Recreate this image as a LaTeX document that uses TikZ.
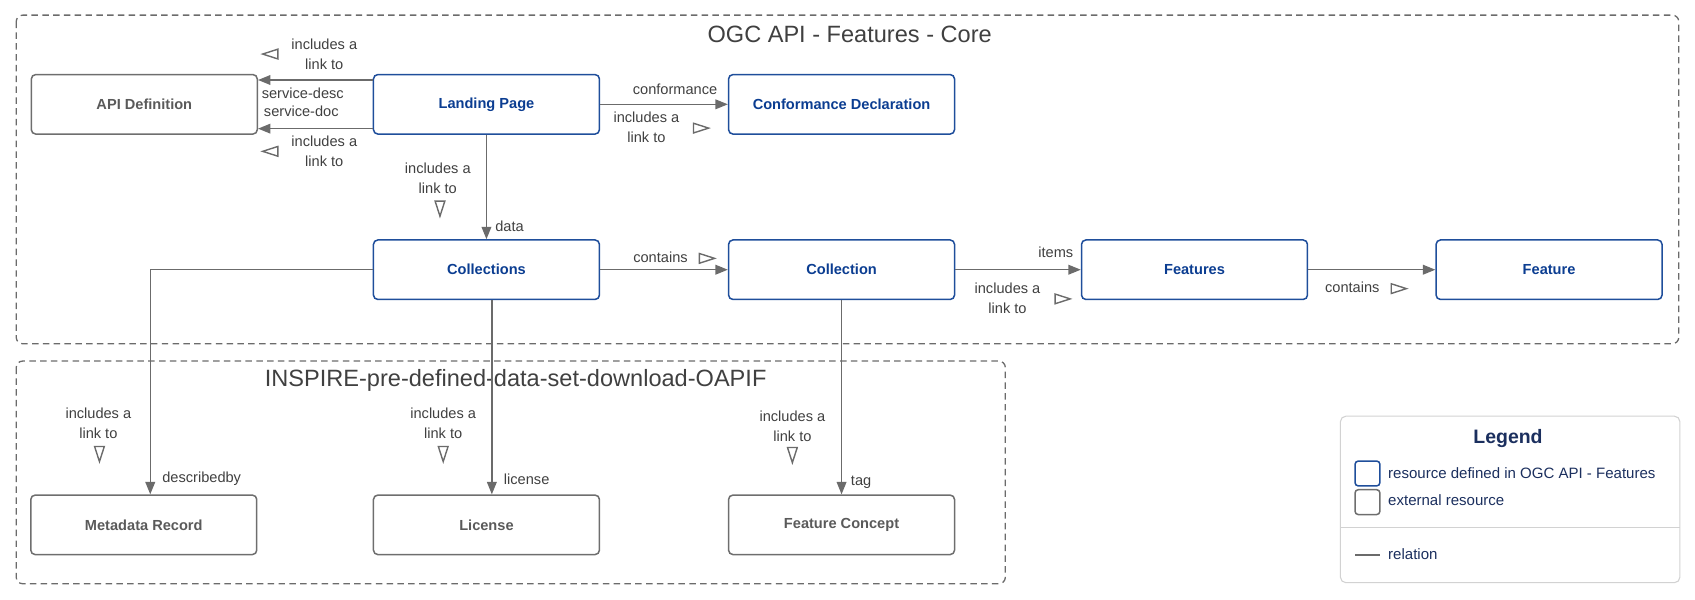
\documentclass[tikz,border=0pt]{standalone}
\usepackage{fontspec}
\setmainfont{Liberation Sans}
\usetikzlibrary{arrows.meta}

\definecolor{corecol}{HTML}{1F4E9B}
\definecolor{coretext}{HTML}{0B3D91}
\definecolor{extcol}{HTML}{6E6E6E}
\definecolor{exttext}{HTML}{5A5A5A}
\definecolor{relcol}{HTML}{6B6B6B}
\definecolor{lblcol}{HTML}{404040}
\definecolor{legcol}{HTML}{D2D2D2}
\definecolor{legtext}{HTML}{1B2F5E}

\tikzset{
    res/.style={rounded corners=4pt, line width=1.4pt, minimum width=209pt, minimum height=55pt,
        inner sep=0pt, font=\fontsize{13.5}{16}\selectfont\bfseries},
    core/.style={res, draw=corecol, text=coretext},
    ext/.style={res, draw=extcol, text=exttext},
    rel/.style={draw=relcol, line width=1.3pt, -{Triangle[length=11.5pt,width=9pt]}},
    lbl/.style={font=\fontsize{13.5}{18.5}\selectfont, text=lblcol, align=center, inner sep=0pt},
    grouptitle/.style={font=\fontsize{21.8}{24}\selectfont, text=lblcol, inner sep=0pt},
    groupframe/.style={draw=relcol, dash pattern=on 6pt off 4pt, line width=1.2pt, rounded corners=6pt},
    legitem/.style={font=\fontsize{13.9}{16}\selectfont, text=legtext, anchor=west, inner sep=0pt},
    legkey/.style={rounded corners=3pt, line width=1.4pt, minimum size=23pt, inner sep=0pt},
    pics/linkto/.style={code={
        \draw[relcol, line width=1.3pt, line join=miter] (-7pt,-4.5pt) -- (7pt,0pt) -- (-7pt,4.5pt) -- cycle;
    }}
}

\begin{document}
\begin{tikzpicture}[x=1pt, y=-1pt]
    \useasboundingbox (0,0) rectangle (1568,555);

    % Dashed groups
    \draw[groupframe] (15,14) rectangle (1553,318);
    \node[grouptitle] (coretitle) at (786,32) {OGC API - Features - Core};
    \draw[groupframe] (15,334) rectangle (930,540);
    \node[grouptitle] (inspiretitle) at (477,352) {INSPIRE-pre-defined-data-set-download-OAPIF};

    % Resources
    \node[ext]  (api)     at (133.5,96.5)  {API Definition};
    \node[core] (landing) at (450,96.5)    {Landing Page};
    \node[core] (conf)    at (778.5,96.5)  {Conformance Declaration};
    \node[core] (colls)   at (450,249.5)   {Collections};
    \node[core] (coll)    at (778.5,249.5) {Collection};
    \node[core] (feats)   at (1105,249.5)  {Features};
    \node[core] (feat)    at (1433,249.5)  {Feature};
    \node[ext]  (meta)    at (133,485.5)   {Metadata Record};
    \node[ext]  (lic)     at (450,485.5)   {License};
    \node[ext]  (concept) at (778.5,485.5) {Feature Concept};

    % Relations
    \draw[rel] ([yshift=22.5pt]landing.west) -- ([yshift=22.5pt]api.east);
    \draw[rel] ([yshift=-22.5pt]landing.west) -- ([yshift=-22.5pt]api.east);
    \draw[rel] (landing) -- (conf);
    \draw[rel] (landing) -- (colls);
    \draw[rel] (colls) -- (coll);
    \draw[rel] (coll) -- (feats);
    \draw[rel] (feats) -- (feat);
    \draw[rel] (colls.west) -| ([xshift=6pt]meta.north);
    \draw[rel] ([xshift=5pt]colls.south) -- ([xshift=5pt]lic.north);
    \draw[rel] (coll) -- (concept);

    % Relation names
    \node[lbl, anchor=west] (servdesc) at (242,86)    {service-desc};
    \node[lbl, anchor=west] (servdoc)  at (244,103)   {service-doc};
    \node[lbl]              (confrel)  at (624.5,83)  {conformance};
    \node[lbl, anchor=west] (datarel)  at (458,209)   {data};
    \node[lbl]              (contrel)  at (611,238)   {contains};
    \node[lbl, anchor=east] (itemrel)  at (993,233)   {items};
    \node[lbl]              (featrel)  at (1251,265.5) {contains};
    \node[lbl, anchor=west] (descrel)  at (150,443)   {describedby};
    \node[lbl, anchor=west] (licrel)   at (466,443)   {license};
    \node[lbl, anchor=west] (tagrel)   at (787,446)   {tag};

    % Link hints
    \foreach \n/\x/\y in {a/300/50, b/300/140, c/598/117.5, d/405/165, e/932/275.5, f/91/392, g/410/392, h/733/394} {
        \node[lbl] (link\n) at (\x,\y) {includes a\\link to};
    }
    \foreach \x/\y/\r in {250/50/180, 250/140/180, 648.5/118.5/0, 407/193/-90, 654/239/0,
        983/276.5/0, 1294/267/0, 92/420/-90, 410/420/-90, 733/421/-90} {
        \pic[rotate=\r] at (\x,\y) {linkto};
    }

    % Legend
    \node[draw=legcol, line width=1pt, rounded corners=5pt, minimum width=314pt, minimum height=154pt,
        inner sep=0pt] (legend) at (1397,462) {};
    \draw[legcol, line width=1pt] (legend.west |- 0,488) -- (legend.east |- 0,488);
    \node[font=\fontsize{18}{20}\selectfont\bfseries, text=legtext, inner sep=0pt] (legtitle) at (1395,405.5) {Legend};
    \node[legkey, draw=corecol] (keycore) at (1265,438) {};
    \node[legitem] (keycoretext) at (1284,438) {resource defined in OGC API - Features};
    \node[legkey, draw=extcol] (keyext) at (1265,464.5) {};
    \node[legitem] (keyexttext) at (1284,463) {external resource};
    \draw[relcol, line width=1.2pt] (1253.5,513.5) -- (1276.5,513.5);
    \node[legitem] (keyreltext) at (1284,512.5) {relation};
\end{tikzpicture}
\end{document}
